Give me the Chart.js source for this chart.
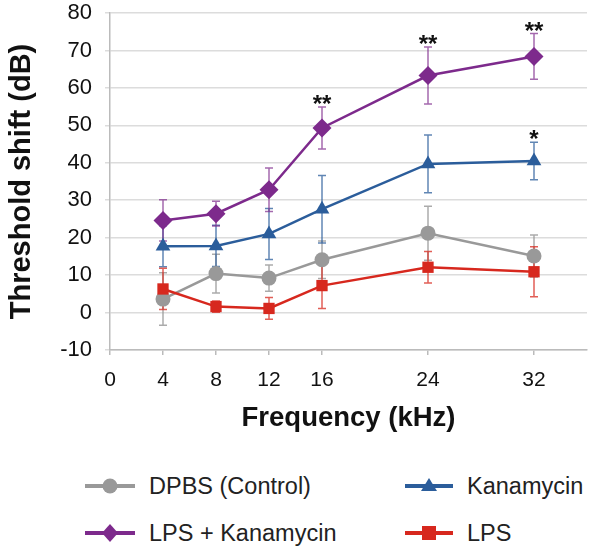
<!DOCTYPE html>
<html>
<head>
<meta charset="utf-8">
<script src="https://cdn.jsdelivr.net/npm/chart.js@4"></script>
<style>
  html, body { margin: 0; padding: 0; background: #fff; }
  #wrap { position: relative; width: 589px; height: 548px; font-family: "Liberation Sans", Arial, sans-serif; }
  #box { position: absolute; left: 0; top: 0; width: 589px; height: 450px; }
  .leg { position: absolute; display: flex; align-items: center; font-size: 23.5px; color: #222; height: 26px; }
  .leg svg { margin-right: 13px; }
</style>
</head>
<body>
<div id="wrap">
  <div id="box"><canvas id="chart"></canvas></div>
  <div class="leg" style="left:84px; top:473px;"><svg width="52" height="20"><line x1="1" y1="10" x2="51" y2="10" stroke="#999999" stroke-width="4"/><circle cx="26" cy="10" r="7.5" fill="#999999"/></svg>DPBS (Control)</div>
  <div class="leg" style="left:404px; top:473px;"><svg width="50" height="20"><line x1="1" y1="10" x2="49" y2="10" stroke="#2b5d9b" stroke-width="4"/><polygon points="25,2 33,15 17,15" fill="#2b5d9b"/></svg>Kanamycin</div>
  <div class="leg" style="left:84px; top:520px;"><svg width="52" height="22"><line x1="1" y1="11" x2="51" y2="11" stroke="#7d2a8c" stroke-width="4"/><polygon points="26,2 34,11 26,20 18,11" fill="#7d2a8c"/></svg>LPS + Kanamycin</div>
  <div class="leg" style="left:404px; top:520px;"><svg width="50" height="20"><line x1="1" y1="10" x2="49" y2="10" stroke="#d7281e" stroke-width="4"/><rect x="18" y="3" width="14" height="14" fill="#d7281e"/></svg>LPS</div>
</div>
<script>
// frequencies (kHz) and x tick labels
var freqs = [4, 8, 12, 16, 24, 32];
var xTicks = [0, 4, 8, 12, 16, 24, 32];

// threshold shift means and SD (dB)
var dpbs = [3.6, 10.4, 9.2, 14.1, 21.2, 15.1];
var dpbsErr = [7.0, 5.2, 3.5, 5.0, 7.2, 5.6];
var kana = [17.7, 17.8, 21.0, 27.6, 39.7, 40.5];
var kanaErr = [5.5, 5.5, 6.8, 9.0, 7.7, 5.0];
var lpsKana = [24.6, 26.4, 32.8, 49.3, 63.3, 68.4];
var lpsKanaErr = [5.5, 3.3, 5.8, 5.6, 7.6, 6.1];
var lps = [6.3, 1.6, 1.1, 7.2, 12.1, 10.9];
var lpsErr = [5.5, 1.5, 2.9, 6.1, 4.2, 6.7];

// significance marks
var kanaSig = ['', '', '', '', '', '*'];
var lpsKanaSig = ['', '', '', '**', '**', '**'];
var noSig = ['', '', '', '', '', ''];

function pts(vals) {
  return freqs.map(function (f, i) { return { x: f, y: vals[i] }; });
}

function series(label, vals, err, sig, color, errColor, style, radius, order) {
  return {
    label: label,
    data: pts(vals),
    errors: err,
    sig: sig,
    errColor: errColor,
    borderColor: color,
    backgroundColor: color,
    borderWidth: 2.5,
    pointStyle: style,
    pointRadius: radius,
    pointHoverRadius: radius,
    pointBorderWidth: 0,
    tension: 0,
    order: order
  };
}

var errorBars = {
  id: 'errorBars',
  beforeDatasetsDraw: function (chart) {
    var ctx = chart.ctx;
    var xs = chart.scales.x, ys = chart.scales.y;
    ctx.save();
    chart.data.datasets.forEach(function (ds) {
      ctx.strokeStyle = ds.errColor;
      ctx.lineWidth = 1.5;
      ds.data.forEach(function (p, i) {
        var px = xs.getPixelForValue(p.x);
        var top = ys.getPixelForValue(p.y + ds.errors[i]);
        var bot = ys.getPixelForValue(p.y - ds.errors[i]);
        ctx.beginPath();
        ctx.moveTo(px, top); ctx.lineTo(px, bot);
        ctx.moveTo(px - 4, top); ctx.lineTo(px + 4, top);
        ctx.moveTo(px - 4, bot); ctx.lineTo(px + 4, bot);
        ctx.stroke();
      });
    });
    ctx.restore();
  },
  afterDatasetsDraw: function (chart) {
    var ctx = chart.ctx;
    var xs = chart.scales.x, ys = chart.scales.y;
    ctx.save();
    ctx.fillStyle = '#111';
    ctx.font = 'bold 24px "Liberation Sans", Arial, sans-serif';
    ctx.textAlign = 'center';
    ctx.textBaseline = 'alphabetic';
    chart.data.datasets.forEach(function (ds) {
      ds.data.forEach(function (p, i) {
        if (!ds.sig[i]) return;
        var px = xs.getPixelForValue(p.x);
        var top = ys.getPixelForValue(p.y + ds.errors[i]);
        ctx.fillText(ds.sig[i], px, top + 5);
      });
    });
    ctx.restore();
  }
};

var fam = '"Liberation Sans", Arial, sans-serif';

new Chart(document.getElementById('chart'), {
  type: 'line',
  data: {
    datasets: [
      series('DPBS (Control)', dpbs, dpbsErr, noSig, '#999999', 'rgba(150,150,150,0.8)', 'circle', 7.5, 4),
      series('Kanamycin', kana, kanaErr, kanaSig, '#2b5d9b', 'rgba(43,93,155,0.75)', 'triangle', 8.5, 3),
      series('LPS', lps, lpsErr, noSig, '#d7281e', 'rgba(215,40,30,0.75)', 'rect', 8, 2),
      series('LPS + Kanamycin', lpsKana, lpsKanaErr, lpsKanaSig, '#7d2a8c', 'rgba(125,42,140,0.7)', 'rectRot', 9.5, 1)
    ]
  },
  options: {
    responsive: true,
    maintainAspectRatio: false,
    animation: false,
    layout: { autoPadding: false, padding: { top: 13, right: 2, left: 0, bottom: 0 } },
    plugins: { legend: { display: false }, tooltip: { enabled: false } },
    scales: {
      x: {
        type: 'linear',
        min: 0,
        max: 36,
        afterBuildTicks: function (scale) {
          scale.ticks = xTicks.map(function (v) { return { value: v }; });
        },
        afterFit: function (scale) {
          scale.height = 100;
          scale.paddingLeft = 0;
          scale.paddingRight = 0;
        },
        grid: { drawOnChartArea: false, color: '#bbbbbb', tickLength: 5, lineWidth: 1.5 },
        border: { color: '#bbbbbb', width: 1.5 },
        ticks: { color: '#111', padding: 13, font: { size: 21, family: fam } },
        title: {
          display: true,
          text: 'Frequency (kHz)',
          color: '#111',
          padding: { top: 0, bottom: 15 },
          font: { size: 27.5, weight: 'bold', family: fam }
        }
      },
      y: {
        min: -10,
        max: 80,
        afterFit: function (scale) {
          scale.width = 110;
          scale.paddingTop = 0;
          scale.paddingBottom = 0;
        },
        grid: { color: '#dcdcdc', tickLength: 5, lineWidth: 1.5 },
        border: { color: '#bbbbbb', width: 1.5 },
        ticks: { stepSize: 10, color: '#111', padding: 13, font: { size: 22, family: fam } },
        title: {
          display: true,
          text: 'Threshold shift (dB)',
          color: '#111',
          padding: { top: 5, bottom: 0 },
          font: { size: 29, weight: 'bold', family: fam }
        }
      }
    }
  },
  plugins: [errorBars]
});
</script>
</body>
</html>
